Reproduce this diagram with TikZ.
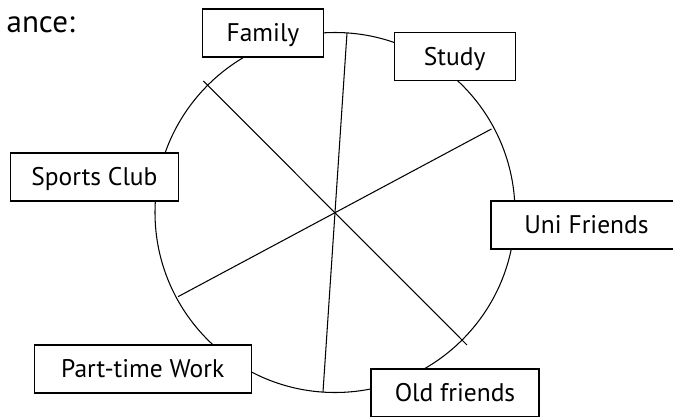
\documentclass[tikz,border=0pt]{standalone}
\usepackage{fontspec}
\setmainfont{PT Sans}
\begin{document}
\begin{tikzpicture}[x=1pt,y=-1pt,
  lbl/.style={draw=black,line width=1.3pt,fill=white,minimum height=48pt,inner sep=0pt,
    text height=17.8pt,text depth=0pt,font=\fontsize{25.5}{30}\selectfont},
  thin/.style={line width=1.05pt}]
\useasboundingbox (0,0) rectangle (673,416);
\clip (0,0) rectangle (673,416);
\node[anchor=base east,inner sep=0pt,font=\fontsize{31}{37}\selectfont] (head) at (75,32.5) {ance:};
\coordinate (c) at (335,212.5);
\draw[thin] (c) circle[radius=180];
\coordinate (a1) at (347,33);
\coordinate (b1) at (323,392);
\coordinate (a2) at (203.4,81);
\coordinate (b2) at (467,345);
\coordinate (a3) at (491.4,129);
\coordinate (b3) at (178,296.7);
\draw[thin] (a1) -- (b1);
\draw[thin] (a2) -- (b2);
\draw[thin] (a3) -- (b3);
\node[lbl,minimum width=121pt] (family) at (263,33) {Family};
\node[lbl,minimum width=121pt] (study) at (454.7,56.7) {Study};
\node[lbl,minimum width=168pt] (sports) at (94.4,177) {Sports Club};
\node[lbl,minimum width=191pt] (uni) at (586.5,225) {Uni Friends};
\node[lbl,minimum width=217pt] (work) at (142.7,369) {Part-time Work};
\node[lbl,minimum width=168pt] (old) at (455,393) {Old friends};
\end{tikzpicture}
\end{document}
